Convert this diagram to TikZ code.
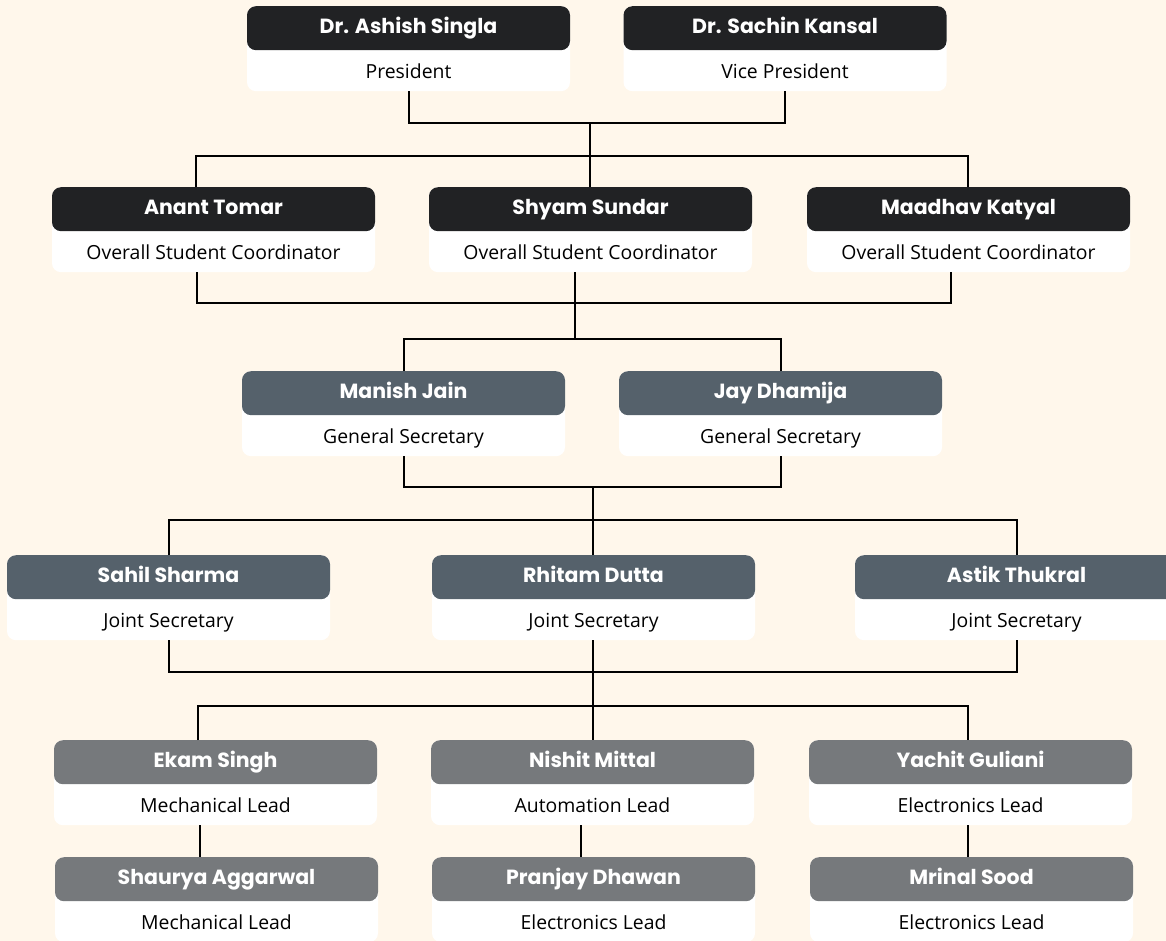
\documentclass[tikz,border=0pt]{standalone}
\usepackage{fontspec}
\setmainfont{Open Sans}
\newfontfamily\namefont{Poppins}[UprightFont=* Bold]
\usetikzlibrary{positioning}
\definecolor{cream}{HTML}{FFF7EB}
\definecolor{topdark}{HTML}{212224}
\definecolor{slate}{HTML}{55616B}
\definecolor{steel}{HTML}{76797C}
% one member card: white back, coloured name bar, role line
\newcommand{\member}[6]{%
  \node[cardbox] (#1) at (#2,#3) {};
  \node[headbox,fill=#4] (#1h) at (#1.north) {#5};
  \node[rolebox,below=0pt of #1h] (#1r) {#6};
}
\begin{document}
\begin{tikzpicture}[x=1pt,y=-1pt,
  cardbox/.style={anchor=north,fill=white,rounded corners=9pt,minimum width=323pt,minimum height=85pt,inner sep=0pt},
  headbox/.style={anchor=north,rounded corners=9pt,minimum width=323pt,minimum height=44pt,inner sep=0pt,text height=14pt,text depth=4pt,text=white,font=\namefont\fontsize{20.5}{23}\selectfont},
  rolebox/.style={minimum width=323pt,minimum height=41pt,inner sep=0pt,text height=14pt,text depth=0pt,text=black,font=\fontsize{19.4}{23}\selectfont},
  link/.style={draw=black,line width=2pt}]
\clip (0,0) rectangle (1166,941);
\fill[cream] (0,0) rectangle (1166,941);
% Faculty
\member{pres}{408.5}{6}{topdark}{Dr. Ashish Singla}{President}
\member{vp}{785}{6}{topdark}{Dr. Sachin Kansal}{Vice President}
% Overall student coordinators
\member{anant}{213.5}{187}{topdark}{Anant Tomar}{Overall Student Coordinator}
\member{shyam}{590.5}{187}{topdark}{Shyam Sundar}{Overall Student Coordinator}
\member{maadhav}{968.5}{187}{topdark}{Maadhav Katyal}{Overall Student Coordinator}
% General secretaries
\member{manish}{403.5}{371}{slate}{Manish Jain}{General Secretary}
\member{jay}{780.5}{371}{slate}{Jay Dhamija}{General Secretary}
% Joint secretaries
\member{sahil}{168.5}{555}{slate}{Sahil Sharma}{Joint Secretary}
\member{rhitam}{593.5}{555}{slate}{Rhitam Dutta}{Joint Secretary}
\member{astik}{1016.5}{555}{slate}{Astik Thukral}{Joint Secretary}
% Leads
\member{ekam}{215.5}{740}{steel}{Ekam Singh}{Mechanical Lead}
\member{nishit}{592.5}{740}{steel}{Nishit Mittal}{Automation Lead}
\member{yachit}{970.5}{740}{steel}{Yachit Guliani}{Electronics Lead}
\member{shaurya}{216.5}{857}{steel}{Shaurya Aggarwal}{Mechanical Lead}
\member{pranjay}{593.5}{857}{steel}{Pranjay Dhawan}{Electronics Lead}
\member{mrinal}{971.5}{857}{steel}{Mrinal Sood}{Electronics Lead}
% junctions
\coordinate (c1) at (590,123);
\coordinate (c2) at (590,156);
\coordinate (c2l) at (196,156);
\coordinate (c2r) at (968,156);
\coordinate (c3) at (575,303);
\coordinate (c3l) at (197,303);
\coordinate (c3r) at (951,303);
\coordinate (c4) at (575,339);
\coordinate (c5) at (593,487);
\coordinate (c6) at (593,520);
\coordinate (c7) at (593,672);
\coordinate (c8) at (593,706);
\coordinate (c8l) at (198,706);
\coordinate (c8r) at (968,706);
% connectors
\draw[link] (pres.south) |- (c1) -| (vp.south);
\draw[link] (c1) -- (c2);
\draw[link] (c2l |- anant.north) -- (c2l) -- (c2r) -- (c2r |- maadhav.north);
\draw[link] (c2) -- (c2 |- shyam.north);
\draw[link] (c3l |- anant.south) -- (c3l) -- (c3r) -- (c3r |- maadhav.south);
\draw[link] (c3 |- shyam.south) -- (c4);
\draw[link] (manish.north) |- (c4) -| (jay.north);
\draw[link] (manish.south) |- (c5) -| (jay.south);
\draw[link] (c5) -- (c6);
\draw[link] (sahil.north) |- (c6) -| (astik.north);
\draw[link] (c6) -- (c6 |- rhitam.north);
\draw[link] (sahil.south) |- (c7) -| (astik.south);
\draw[link] (c7 |- rhitam.south) -- (c8);
\draw[link] (c8l |- ekam.north) -- (c8l) -- (c8r) -- (c8r |- yachit.north);
\draw[link] (c8) -- (c8 |- nishit.north);
\draw[link] ([xshift=-16pt]ekam.south) -- ([xshift=-16pt]ekam.south |- shaurya.north);
\draw[link] ([xshift=-11.5pt]nishit.south) -- ([xshift=-11.5pt]nishit.south |- pranjay.north);
\draw[link] ([xshift=-2.5pt]yachit.south) -- ([xshift=-2.5pt]yachit.south |- mrinal.north);
\end{tikzpicture}
\end{document}
